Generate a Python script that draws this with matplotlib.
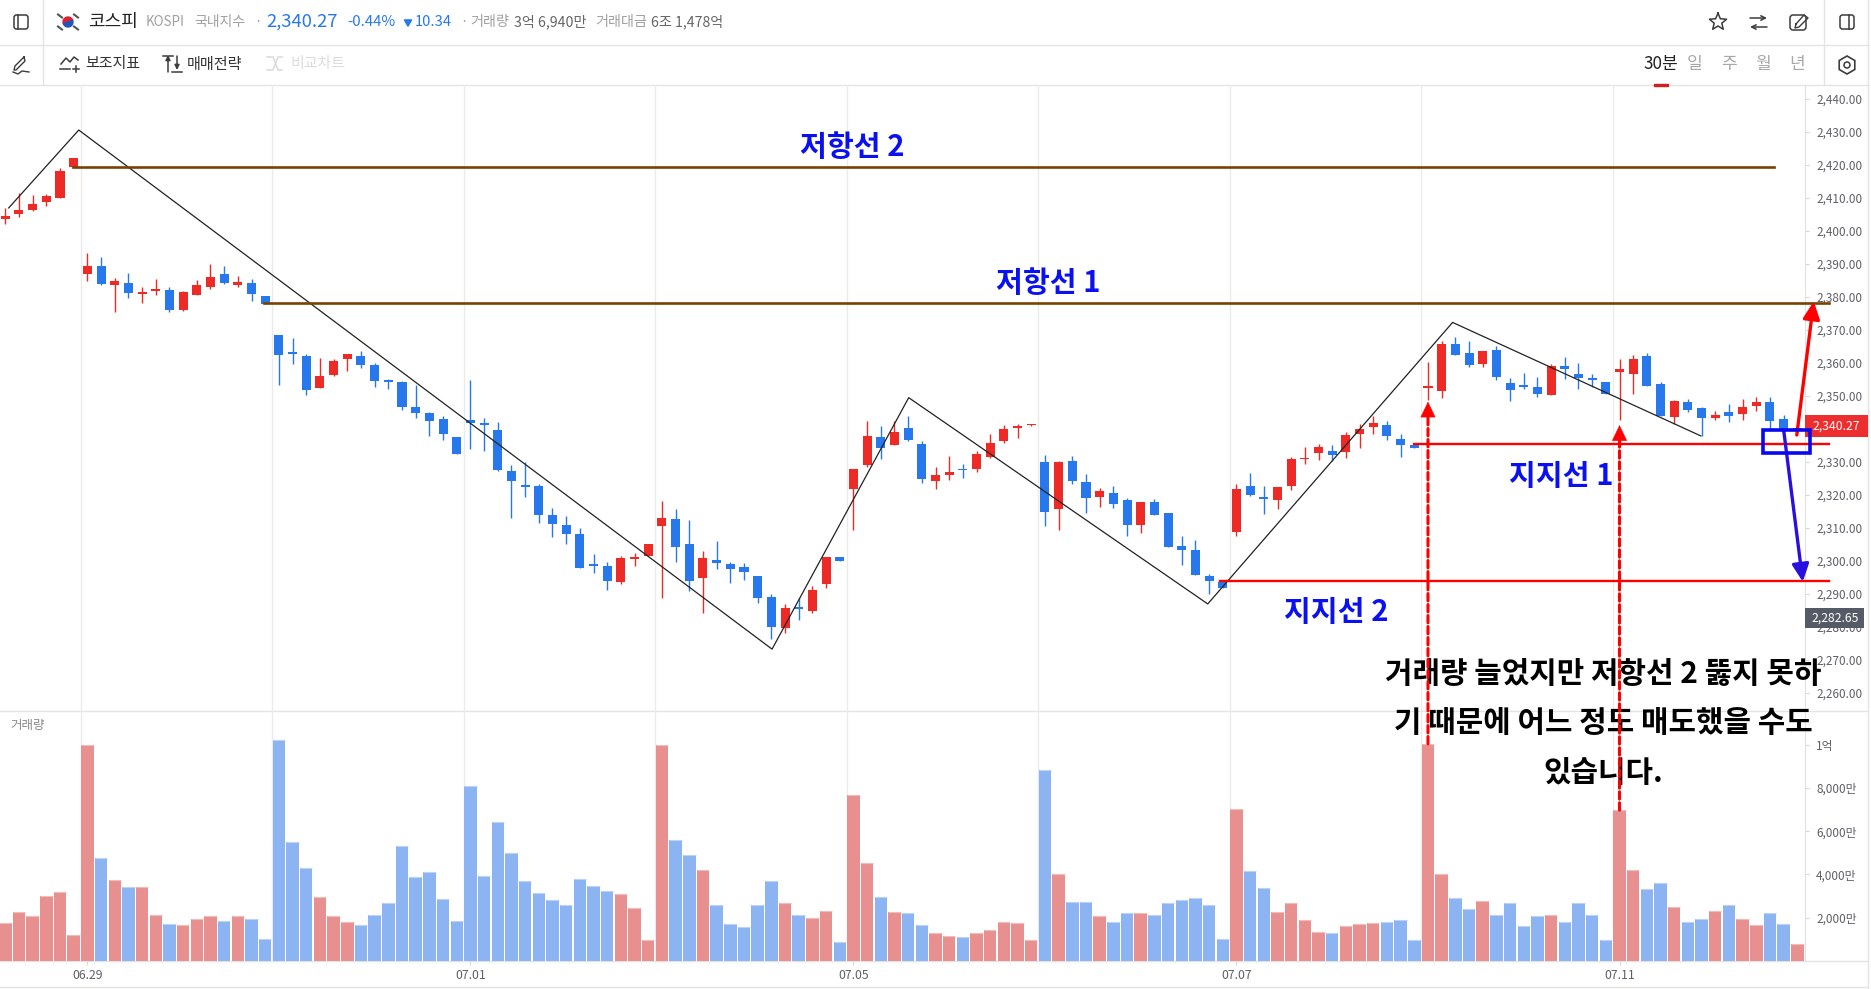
import numpy as np
import matplotlib
matplotlib.use("Agg")
import matplotlib.pyplot as plt
from matplotlib.patches import Rectangle, FancyBboxPatch, Circle, Wedge, ConnectionPatch, RegularPolygon

plt.rcParams["font.family"] = ["Noto Sans CJK KR", "DejaVu Sans"]

# ---- data ----
opens = [2403.5, 2405.1, 2406.3, 2408.7, 2409.9, 2419.3, 2386.9, 2389.3, 2383.5, 2384.1, 2380.8, 2381.7, 2382.0, 2376.0,
         2380.5, 2382.9, 2386.9, 2383.5, 2384.1, 2380.2, 2368.4, 2363.2, 2362.0, 2352.3, 2356.3, 2361.1, 2362.0, 2359.3,
         2354.8, 2354.1, 2346.6, 2344.8, 2342.9, 2337.5, 2342.6, 2341.7, 2339.6, 2327.2, 2322.9, 2322.6, 2313.9, 2310.8,
         2308.1, 2299.0, 2298.4, 2293.5, 2300.5, 2301.4, 2310.5, 2312.6, 2305.1, 2294.8, 2300.2, 2299.0, 2298.1, 2295.4,
         2289.0, 2279.6, 2286.0, 2284.8, 2292.9, 2301.1, 2321.7, 2329.0, 2337.5, 2335.1, 2340.2, 2335.4, 2324.2, 2326.0,
         2327.8, 2327.8, 2331.4, 2336.3, 2340.2, 2341.1, 2329.9, 2315.7, 2330.2, 2323.9, 2319.3, 2320.5, 2318.4, 2310.8,
         2317.8, 2314.4, 2304.5, 2303.2, 2295.4, 2293.5, 2308.7, 2322.6, 2319.3, 2318.4, 2322.6, 2330.8, 2332.6, 2333.2,
         2333.0, 2338.4, 2340.5, 2341.1, 2336.9, 2335.1, 2352.3, 2351.4, 2365.7, 2362.9, 2359.6, 2363.9, 2353.9, 2353.2,
         2352.7, 2350.2, 2359.0, 2356.6, 2355.4, 2354.2, 2357.2, 2356.6, 2362.0, 2353.5, 2343.5, 2348.1, 2346.3, 2343.2,
         2345.1, 2344.5, 2346.9, 2348.1, 2342.9, 2339.6]
highs = [2406.8, 2411.3, 2410.8, 2411.1, 2419.0, 2422.0, 2393.2, 2392.0, 2385.7, 2387.2, 2382.9, 2385.4, 2382.9, 2381.7,
         2385.1, 2389.9, 2389.3, 2386.3, 2385.4, 2380.2, 2368.4, 2367.5, 2362.6, 2361.4, 2361.1, 2362.6, 2363.5, 2359.9,
         2355.1, 2354.4, 2353.2, 2345.1, 2343.8, 2337.5, 2354.8, 2343.2, 2342.0, 2329.0, 2329.9, 2323.2, 2316.0, 2313.5,
         2309.9, 2302.0, 2299.6, 2301.4, 2302.3, 2305.1, 2318.1, 2315.7, 2312.3, 2302.9, 2306.0, 2299.6, 2299.3, 2295.4,
         2290.0, 2286.9, 2288.7, 2292.3, 2301.1, 2301.1, 2327.8, 2342.3, 2340.8, 2342.3, 2343.8, 2336.3, 2328.4, 2331.7,
         2329.3, 2333.2, 2338.4, 2341.1, 2341.4, 2341.4, 2332.0, 2330.2, 2331.7, 2326.3, 2322.0, 2322.6, 2319.0, 2317.8,
         2318.7, 2314.4, 2307.5, 2306.3, 2296.0, 2293.5, 2323.2, 2326.6, 2322.6, 2322.3, 2331.4, 2334.5, 2335.4, 2335.1,
         2339.0, 2341.4, 2343.8, 2342.3, 2338.4, 2335.1, 2360.2, 2366.6, 2367.8, 2366.6, 2363.5, 2365.1, 2355.4, 2356.9,
         2355.7, 2359.6, 2361.7, 2359.9, 2356.6, 2354.2, 2361.1, 2362.3, 2362.9, 2354.2, 2348.7, 2349.0, 2346.6, 2345.4,
         2347.5, 2349.0, 2349.6, 2349.6, 2344.2, 2340.8]
lows = [2402.0, 2404.1, 2406.0, 2407.5, 2409.9, 2419.3, 2384.8, 2383.5, 2375.4, 2379.6, 2378.1, 2380.5, 2375.4, 2375.7,
        2380.5, 2382.3, 2383.8, 2382.9, 2378.7, 2377.8, 2353.2, 2359.6, 2350.2, 2352.3, 2356.0, 2357.5, 2358.4, 2352.6,
        2352.0, 2345.7, 2343.2, 2337.8, 2336.6, 2332.3, 2333.9, 2333.2, 2327.2, 2312.9, 2319.3, 2311.4, 2307.2, 2305.1,
        2297.8, 2296.3, 2291.1, 2292.9, 2298.4, 2301.4, 2288.7, 2299.6, 2290.8, 2284.2, 2297.5, 2293.2, 2294.2, 2287.2,
        2276.3, 2278.1, 2282.0, 2284.2, 2291.7, 2299.9, 2309.3, 2328.4, 2330.9, 2335.1, 2336.3, 2323.5, 2321.7, 2324.4,
        2325.0, 2326.9, 2331.1, 2335.7, 2337.2, 2340.8, 2310.5, 2309.3, 2323.2, 2314.4, 2316.3, 2316.0, 2307.5, 2308.4,
        2313.9, 2304.2, 2298.7, 2295.7, 2290.0, 2291.7, 2307.5, 2319.6, 2314.2, 2315.7, 2321.4, 2329.3, 2330.5, 2330.2,
        2331.1, 2334.2, 2338.4, 2336.6, 2331.4, 2334.2, 2348.7, 2349.3, 2362.3, 2358.7, 2358.7, 2354.8, 2348.4, 2352.0,
        2349.6, 2350.2, 2355.1, 2352.0, 2352.7, 2350.5, 2342.6, 2350.5, 2352.9, 2343.8, 2341.4, 2345.1, 2337.8, 2342.6,
        2342.0, 2342.6, 2345.4, 2339.6, 2339.0, 2339.0]
closes = [2404.4, 2406.3, 2408.1, 2410.5, 2418.1, 2422.0, 2389.3, 2383.8, 2384.8, 2381.1, 2381.4, 2382.3, 2376.0, 2381.4,
          2383.5, 2386.0, 2384.1, 2384.4, 2380.8, 2377.8, 2362.3, 2362.6, 2351.7, 2356.0, 2360.5, 2362.6, 2359.3, 2354.4,
          2354.1, 2346.6, 2344.8, 2342.3, 2338.4, 2332.3, 2341.7, 2341.1, 2327.5, 2324.2, 2322.3, 2313.9, 2311.1, 2308.1,
          2297.8, 2298.4, 2293.9, 2300.8, 2301.1, 2305.1, 2312.9, 2304.2, 2293.9, 2300.8, 2299.3, 2297.5, 2296.6, 2288.7,
          2279.9, 2285.7, 2285.4, 2291.1, 2301.1, 2299.9, 2327.8, 2337.8, 2334.2, 2339.0, 2336.6, 2324.8, 2326.0, 2326.9,
          2327.5, 2332.3, 2335.7, 2339.9, 2340.8, 2341.4, 2314.8, 2329.9, 2324.2, 2319.0, 2321.1, 2317.2, 2310.8, 2317.8,
          2313.9, 2304.2, 2303.2, 2295.7, 2293.9, 2291.7, 2321.7, 2319.9, 2318.7, 2322.3, 2330.8, 2331.1, 2334.5, 2332.0,
          2338.1, 2339.9, 2341.7, 2337.8, 2335.1, 2334.2, 2352.9, 2365.7, 2362.3, 2359.3, 2363.5, 2355.7, 2351.7, 2352.7,
          2350.5, 2359.0, 2358.1, 2355.4, 2354.8, 2350.5, 2358.1, 2361.1, 2352.9, 2343.8, 2348.4, 2345.7, 2343.2, 2344.2,
          2343.9, 2346.6, 2348.1, 2342.3, 2339.8, 2340.27]
# volume in units of 만
volumes = [1779, 2243, 2058, 2986, 3171, 1222, 10009, 4749, 3728, 3403, 3403, 2104, 1733, 1686,
           1965, 2058, 1872, 2058, 1965, 1036, 10226, 5492, 4285, 2939, 2058, 1825, 1686, 2104,
           2661, 5306, 3868, 4100, 2846, 1872, 8091, 3914, 6420, 4981, 3682, 3125, 2800, 2568,
           3775, 3450, 3218, 3079, 2429, 990, 10009, 5585, 4889, 4192, 2568, 1733, 1593, 2568,
           3682, 2661, 2150, 2011, 2290, 897, 7673, 4517, 2939, 2243, 2197, 1686, 1315, 1176,
           1129, 1315, 1454, 1825, 1779, 990, 8833, 4007, 2707, 2707, 2058, 1825, 2197, 2197,
           2150, 2661, 2800, 2893, 2568, 1036, 7023, 4146, 3357, 2243, 2661, 1918, 1361, 1315,
           1640, 1733, 1779, 1825, 1918, 990, 10040, 4007, 2893, 2382, 2754, 2150, 2661, 1640,
           2058, 2104, 1825, 2661, 2150, 990, 6977, 4192, 3311, 3589, 2475, 1825, 1965, 2290,
           2568, 1965, 1686, 2197, 1733, 804]

date_idx = [6, 34, 62, 90, 118]
date_labels = ["06.29", "07.01", "07.05", "07.07", "07.11"]
day_starts = [6, 20, 34, 48, 62, 76, 90, 104, 118]
price_ticks = list(range(2260, 2450, 10))
vol_ticks = [2000, 4000, 6000, 8000, 10000]
vol_tick_labels = ["2,000만", "4,000만", "6,000만", "8,000만", "1억"]

# hand drawn trend line, (candle index, price)
zigzag_x = [0.25, 5.37, 56.05, 66.04, 87.9, 105.8, 123.95]
zigzag_y = [2406.9, 2430.5, 2273.2, 2349.4, 2286.9, 2372.2, 2337.8]
resist2, resist1, support1, support2 = 2419.3, 2378.2, 2335.4, 2293.85

RED = "#ee2a27"
BLUE = "#2878ed"
VOL_RED = "#e89090"
VOL_BLUE = "#8cb3f2"
GRID = "#ebebeb"
BROWN = "#7a4100"
LINE_RED = "#ff0000"
INK_BLUE = "#0a10f0"

W, H = 1871, 989
fig = plt.figure(figsize=(W / 100, H / 100), dpi=100, facecolor="white")

# chrome layer in pixel coordinates
ui = fig.add_axes([0, 0, 1, 1], zorder=0)
ui.set_xlim(0, W)
ui.set_ylim(H, 0)
ui.axis("off")

# ---- panes ----
plot_right = 1805
ax_vol = fig.add_axes([0, (H - 961) / H, plot_right / W, 250 / H], zorder=1)
ax_price = fig.add_axes([0, (H - 711) / H, plot_right / W, 626 / H], zorder=5)
ax_price.patch.set_alpha(0)
ax_vol.patch.set_alpha(0)

x = np.arange(len(opens))
o, h, l, c = map(np.array, (opens, highs, lows, closes))
up = c >= o
xlim = (-0.387, 131.56)

for ax in (ax_price, ax_vol):
    ax.set_xlim(*xlim)
    for s in ("top", "left", "bottom"):
        ax.spines[s].set_visible(False)
    ax.spines["right"].set_color("#e2e2e2")
    ax.yaxis.tick_right()
    ax.tick_params(axis="y", length=3, width=0.8, color="#d8d8d8", labelcolor="#5f5f66", labelsize=8.5, pad=5)
    for d in day_starts:
        ax.axvline(d - 0.5, color=GRID, lw=1.0, zorder=0)

# candles
ax_price.set_ylim(2254.45, 2444.15)
ax_price.set_xticks([])
ax_price.set_yticks(price_ticks)
ax_price.set_yticklabels([f"{p:,.2f}" for p in price_ticks])
colors = [RED if u else BLUE for u in up]
ax_price.vlines(x, l, h, colors=colors, lw=1.0, zorder=2)
ax_price.bar(x, np.maximum(np.abs(c - o), 0.3), bottom=np.minimum(o, c), width=0.66, color=colors, zorder=3)

# volume
ax_vol.set_ylim(0, 11560)
bar_colors = [VOL_RED if u else VOL_BLUE for u in up]
top_colors = ["#f3bcbc" if u else "#bcd2f7" for u in up]
ax_vol.bar(x, volumes, width=0.91, color=bar_colors, zorder=2)
ax_vol.hlines(volumes, x - 0.455, x + 0.455, colors=top_colors, lw=0.8, zorder=3)
ax_vol.set_yticks(vol_ticks)
ax_vol.set_yticklabels(vol_tick_labels)
ax_vol.set_xticks(date_idx)
ax_vol.set_xticklabels(date_labels)
ax_vol.tick_params(axis="x", length=3, width=0.8, color="#d8d8d8", labelcolor="#5f5f66", labelsize=8.8, pad=3)
ax_vol.text(10, 725, "거래량", transform=ui.transData, fontsize=9, color="#888888", va="center")

# ---- drawn overlay ----
ax_price.plot(zigzag_x, zigzag_y, color="#222222", lw=0.9, zorder=6, clip_on=False)
end = 133.3
ax_price.plot([4.95, 129.3], [resist2, resist2], color=BROWN, lw=1.9, zorder=6, clip_on=False)
ax_price.plot([18.9, end], [resist1, resist1], color=BROWN, lw=1.9, zorder=6, clip_on=False)
ax_price.plot([103, end], [support1, support1], color=LINE_RED, lw=1.7, zorder=6, clip_on=False)
ax_price.plot([88.8, end], [support2, support2], color=LINE_RED, lw=1.7, zorder=6, clip_on=False)

bold = dict(fontweight="bold", transform=ui.transData, ha="center", va="center", zorder=7)
ax_price.text(852, 147, "저항선 2", color=INK_BLUE, fontsize=21, **bold)
ax_price.text(1048, 283, "저항선 1", color=INK_BLUE, fontsize=21, **bold)
ax_price.text(1561, 476, "지지선 1", color=INK_BLUE, fontsize=21, **bold)
ax_price.text(1336, 612, "지지선 2", color=INK_BLUE, fontsize=21, **bold)
ax_price.text(1603, 674, "거래량 늘었지만 저항선 2 뚫지 못하", color="black", fontsize=21.5, **bold)
ax_price.text(1603, 723, "기 때문에 어느 정도 매도했을 수도", color="black", fontsize=21.5, **bold)
ax_price.text(1603, 773, "있습니다.", color="black", fontsize=21.5, **bold)

# dashed arrows from the volume spikes up to the candles
for i, tip in [(104, 2348.2), (118, 2341.1)]:
    dash = ConnectionPatch(xyA=(i, volumes[i]), coordsA=ax_vol.transData, xyB=(i, tip - 3), coordsB=ax_price.transData,
                           color=LINE_RED, lw=2.2, linestyle=(0, (2.4, 1.2)), zorder=8)
    fig.add_artist(dash)
    ax_price.annotate("", xy=(i, tip), xytext=(i, tip - 3.7), annotation_clip=False, zorder=9,
                      arrowprops=dict(arrowstyle="-|>,head_length=0.75,head_width=0.36", color=LINE_RED, lw=0.5,
                                      shrinkA=0, shrinkB=0, mutation_scale=14))

# up / down scenario
ax_price.annotate("", xy=(132.2, 2378.6), xytext=(130.96, 2338.1), annotation_clip=False, zorder=9,
                  arrowprops=dict(arrowstyle="-|>,head_length=0.75,head_width=0.36", color=LINE_RED, lw=2.4,
                                  shrinkA=0, shrinkB=0, mutation_scale=14))
ax_price.annotate("", xy=(131.4, 2293.6), xytext=(130.0, 2339.6), annotation_clip=False, zorder=9,
                  arrowprops=dict(arrowstyle="-|>,head_length=0.75,head_width=0.36", color="#2a10e0", lw=2.4,
                                  shrinkA=0, shrinkB=0, mutation_scale=14))
ax_price.add_patch(Rectangle((128.5, 2332.7), 3.4, 6.9, fill=False, edgecolor="#0808f0", lw=2.6, zorder=9, clip_on=False))

# price tags
ax_price.add_patch(Rectangle((1805, 415), 63, 22, transform=ui.transData, facecolor="#ee2e2e", edgecolor="none",
                             zorder=7, clip_on=False))
ax_price.text(1836, 426, f"{closes[-1]:,.2f}", transform=ui.transData, color="white", fontsize=8.8, fontweight="medium",
              ha="center", va="center", zorder=8)
ax_price.add_patch(Rectangle((1805, 608), 59, 20, transform=ui.transData, facecolor="#555b66", edgecolor="none",
                             zorder=7, clip_on=False))
ax_price.text(1835, 618, "2,282.65", transform=ui.transData, color="white", fontsize=8.8, ha="center", va="center", zorder=8)

# ---- frame lines ----
FRAME = "#e4e4e4"
for y in (44.5, 85, 711, 961, 987):
    ui.plot([0, 1868], [y, y], color=FRAME, lw=1.0)
ui.plot([43.5, 43.5], [0, 85], color=FRAME, lw=1.0)
ui.plot([1824.5, 1824.5], [0, 85], color=FRAME, lw=1.0)
ui.plot([1868, 1868], [0, 989], color=FRAME, lw=1.0)

# ---- toolbar texts ----
def label(px, py, s, size, color, **kw):
    ui.text(px, py, s, fontsize=size, color=color, va="center", **kw)

label(88, 22, "코스피", 13, "#222222", fontweight="medium")
label(146, 22, "KOSPI", 9.6, "#a0a0a0")
label(194, 22, "국내지수", 10, "#a0a0a0")
label(254, 22, "·", 9.6, "#a0a0a0")
label(266, 22, "2,340.27", 13.3, "#2878ed", fontweight="medium")
label(347, 22, "-0.44%", 10.8, "#2878ed")
ui.add_patch(RegularPolygon((408, 22), 3, radius=4.2, orientation=0, color="#2878ed"))
label(415, 22, "10.34", 10.6, "#2878ed")
label(460, 22, "·", 9.6, "#a0a0a0")
label(470, 22, "거래량", 10.2, "#a0a0a0")
label(514, 22, "3억 6,940만", 10.2, "#666666")
label(595, 22, "거래대금", 10.2, "#a0a0a0")
label(651, 22, "6조 1,478억", 10.2, "#666666")

label(85, 64, "보조지표", 10.8, "#333333")
label(187, 64, "매매전략", 10.9, "#333333")
label(291, 64, "비교차트", 10.8, "#dcdcdc", fontweight="medium")

label(1661, 64, "30분", 12.3, "#222222", ha="center")
for px, s in zip((1695, 1729, 1763, 1797), ("일", "주", "월", "년")):
    label(px, 64, s, 12.3, "#a8a8a8", ha="center")
ui.add_patch(Rectangle((1654, 84), 14, 2, color="#d0201f", zorder=4))

# ---- icons ----
ICON = "#3c3c3c"
def panel_icon(cx, cy, side):
    ui.add_patch(FancyBboxPatch((cx - 7, cy - 7), 14, 14, boxstyle="round,pad=0,rounding_size=2.5", fill=False, ec=ICON, lw=1.1))
    ui.plot([cx + side * 2.5] * 2, [cy - 7, cy + 7], color=ICON, lw=1.1)

panel_icon(21, 22, -1)
panel_icon(1847, 22, 1)

# flag
ui.add_patch(Wedge((68, 22), 5, 160, 340, color="#e02030", zorder=3))
ui.add_patch(Wedge((68, 22), 5, -20, 160, color="#2255bb", zorder=3))
for dx, dy in ((-8, -6), (8, -6), (-8, 6), (8, 6)):
    ui.plot([68 + dx - 2, 68 + dx + 2], [22 + dy - 1.5, 22 + dy + 1.5], color="#555555", lw=1.5)

# pencil
ui.plot([24, 15, 14, 16, 25, 24], [57, 66, 70, 70, 61, 57], color=ICON, lw=1.0)
ui.plot([13, 18, 22, 29], [72, 74, 71, 72], color=ICON, lw=1.0)

# indicator icon
ui.plot([61, 66, 70, 74, 78], [64, 58, 62, 57, 60], color=ICON, lw=1.1)
ui.plot([60, 70], [69, 69], color=ICON, lw=1.1)
ui.plot([73, 79], [69, 69], color=ICON, lw=1.1)
ui.plot([76, 76], [66, 72], color=ICON, lw=1.1)

# strategy icon
ui.annotate("", xy=(168, 55), xytext=(168, 72), arrowprops=dict(arrowstyle="-|>", color=ICON, lw=1.1, shrinkA=0, shrinkB=0, mutation_scale=7))
ui.annotate("", xy=(177, 70), xytext=(177, 56), arrowprops=dict(arrowstyle="-|>", color=ICON, lw=1.1, shrinkA=0, shrinkB=0, mutation_scale=7))
ui.plot([172, 182], [72, 72], color=ICON, lw=1.1)
ui.plot([163, 173], [56, 56], color=ICON, lw=1.1)

# compare icon
ui.plot([267, 273, 278, 282], [57, 57, 70, 70], color="#dcdcdc", lw=1.2)
ui.plot([267, 273, 278, 282], [70, 70, 57, 57], color="#dcdcdc", lw=1.2)

# star
ang = np.deg2rad(np.arange(-90, 270, 36))
rad = np.array([9, 4] * 5)
sx = 1718 + rad * np.cos(ang)
sy = 22 + rad * np.sin(ang)
ui.plot(np.r_[sx, sx[0]], np.r_[sy, sy[0]], color=ICON, lw=1.1)

# swap
ui.annotate("", xy=(1767, 18), xytext=(1750, 18), arrowprops=dict(arrowstyle="->", color=ICON, lw=1.1, shrinkA=0, shrinkB=0, mutation_scale=8))
ui.annotate("", xy=(1750, 27), xytext=(1767, 27), arrowprops=dict(arrowstyle="->", color=ICON, lw=1.1, shrinkA=0, shrinkB=0, mutation_scale=8))

# edit
ui.add_patch(FancyBboxPatch((1790, 15), 16, 15, boxstyle="round,pad=0,rounding_size=3", fill=False, ec=ICON, lw=1.1))
ui.plot([1796, 1804, 1808, 1799, 1795, 1796], [24, 15, 18, 27, 28, 24], color=ICON, lw=1.0)

# gear
ui.add_patch(RegularPolygon((1847, 65), 6, radius=9, fill=False, ec=ICON, lw=1.2))
ui.add_patch(Circle((1847, 65), 3, fill=False, ec=ICON, lw=1.1))

fig.savefig("out.png", dpi=100)
